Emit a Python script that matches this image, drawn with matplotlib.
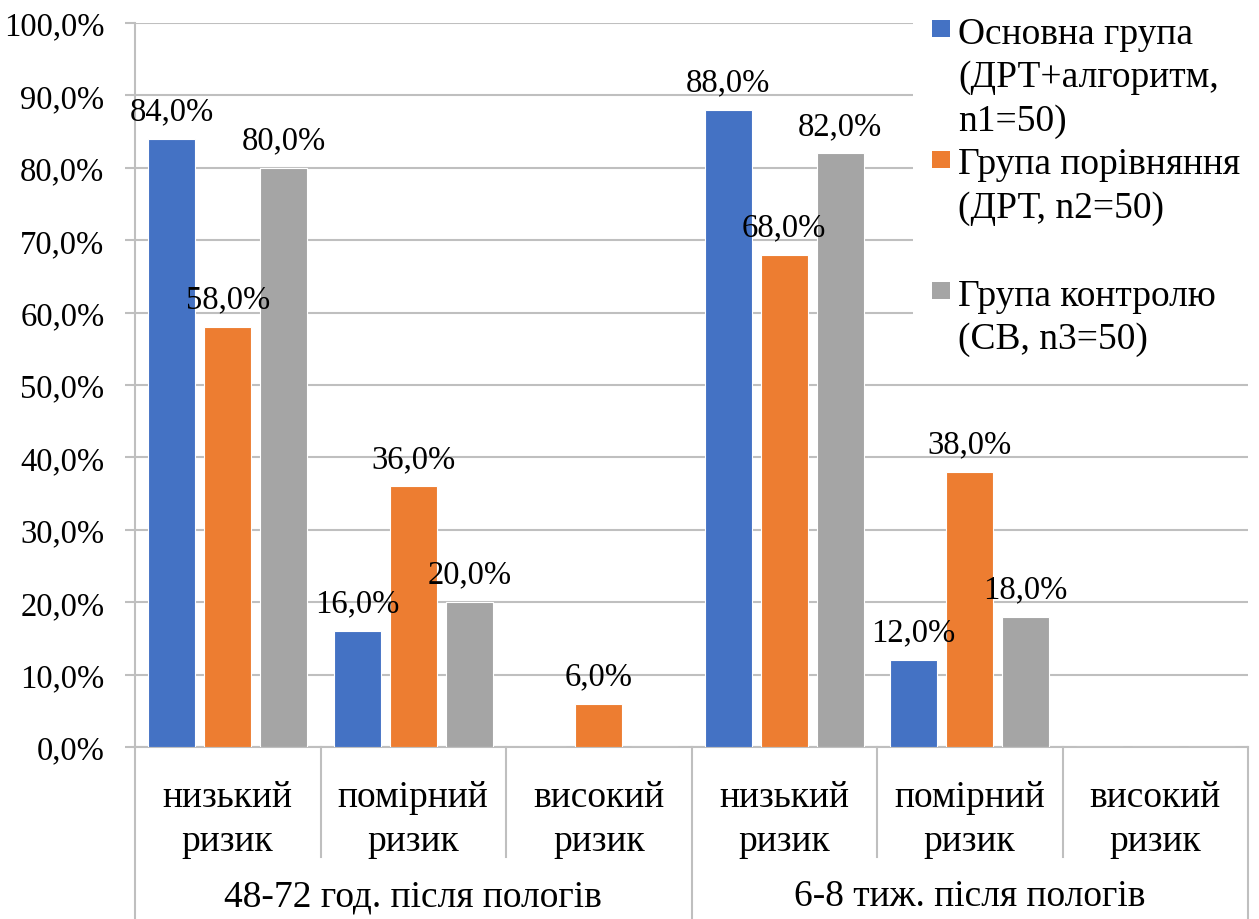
import numpy as np
import matplotlib.pyplot as plt
from matplotlib.patches import Rectangle
from matplotlib.transforms import blended_transform_factory

plt.rcParams['font.family'] = ['Liberation Serif', 'DejaVu Serif']

periods = ["48-72 год. після пологів", "6-8 тиж. після пологів"]
risks = ["низький\nризик", "помірний\nризик", "високий\nризик"]
series = ["Основна група\n(ДРТ+алгоритм,\nn1=50)",
          "Група порівняння\n(ДРТ, n2=50)",
          "Група контролю\n(СВ, n3=50)"]
main_group = [84.0, 16.0, 0.0, 88.0, 12.0, 0.0]
compare_group = [58.0, 36.0, 6.0, 68.0, 38.0, 0.0]
control_group = [80.0, 20.0, 0.0, 82.0, 18.0, 0.0]
colors = ["#4472C4", "#ED7D31", "#A5A5A5"]
grid_c = "#BFBFBF"
fs_num = 23.5   # numbers: ticks and bar values
fs_txt = 27     # words: categories and legend

fig = plt.figure(figsize=(12.59, 9.2), dpi=100)
ax = fig.add_axes([135/1259, 172/920, 1113/1259, 724/920])

n = len(main_group)
x = np.arange(n)
w = 0.253
step = 0.302
for k, vals in enumerate([main_group, compare_group, control_group]):
    pos = x + (k - 1) * step
    ax.bar(pos, vals, width=w, color=colors[k], edgecolor="white", linewidth=0.8, zorder=3)
    for p, v in zip(pos, vals):
        if v > 0:
            ax.annotate(f"{v:.1f}%".replace(".", ","), (p, v), xytext=(0, 9),
                        textcoords="offset points", ha="center", va="bottom",
                        fontsize=fs_num, zorder=5)

ax.set_xlim(-0.5, n - 0.5)
ax.set_ylim(0, 100)
ax.set_yticks(np.arange(0, 101, 10))
ax.set_yticklabels([f"{t:.1f}%".replace(".", ",") for t in np.arange(0, 101, 10)], fontsize=fs_num)
ax.yaxis.grid(True, color=grid_c, linewidth=1.5, zorder=0)
ax.tick_params(axis="y", direction="out", length=7, width=1.5, color=grid_c, pad=15)
ax.set_xticks([])
for s in ["top", "right"]:
    ax.spines[s].set_visible(False)
ax.spines["left"].set_color(grid_c)
ax.spines["left"].set_linewidth(1.5)
ax.spines["bottom"].set_color(grid_c)
ax.spines["bottom"].set_linewidth(1.5)

# two-level category axis
tr = blended_transform_factory(ax.transData, ax.transAxes)
inner_depth = -110 / 724
outer_depth = -172 / 724
for i in range(n + 1):
    b = i - 0.5
    depth = outer_depth if i % 3 == 0 else inner_depth
    ax.plot([b, b], [0, depth], transform=tr, color=grid_c, linewidth=1.5,
            clip_on=False, zorder=1)
for i in range(n):
    ax.text(i, -72 / 724, risks[i % 3], transform=tr, ha="center", va="center",
            fontsize=fs_txt, linespacing=1.35)
for g, label in enumerate(periods):
    ax.text(g * 3 + 1, -149 / 724, label, transform=tr, ha="center", va="center",
            fontsize=fs_txt)

# legend block on white background
fig.patches.append(Rectangle((913/1259, 1 - 365/920), 346/1259, 365/920,
                             transform=fig.transFigure, facecolor="white",
                             edgecolor="none", zorder=4))
legend_rows = [21, 152, 283]
for k, label in enumerate(series):
    ytop = legend_rows[k]
    fig.patches.append(Rectangle((932/1259, 1 - (ytop + 17)/920), 18/1259, 17/920,
                                 transform=fig.transFigure, facecolor=colors[k],
                                 edgecolor="none", zorder=5))
    fig.text(958/1259, 1 - (ytop - 4)/920, label, ha="left", va="top",
             fontsize=fs_txt, linespacing=1.34, zorder=6)

fig.savefig("out.png", dpi=100)
